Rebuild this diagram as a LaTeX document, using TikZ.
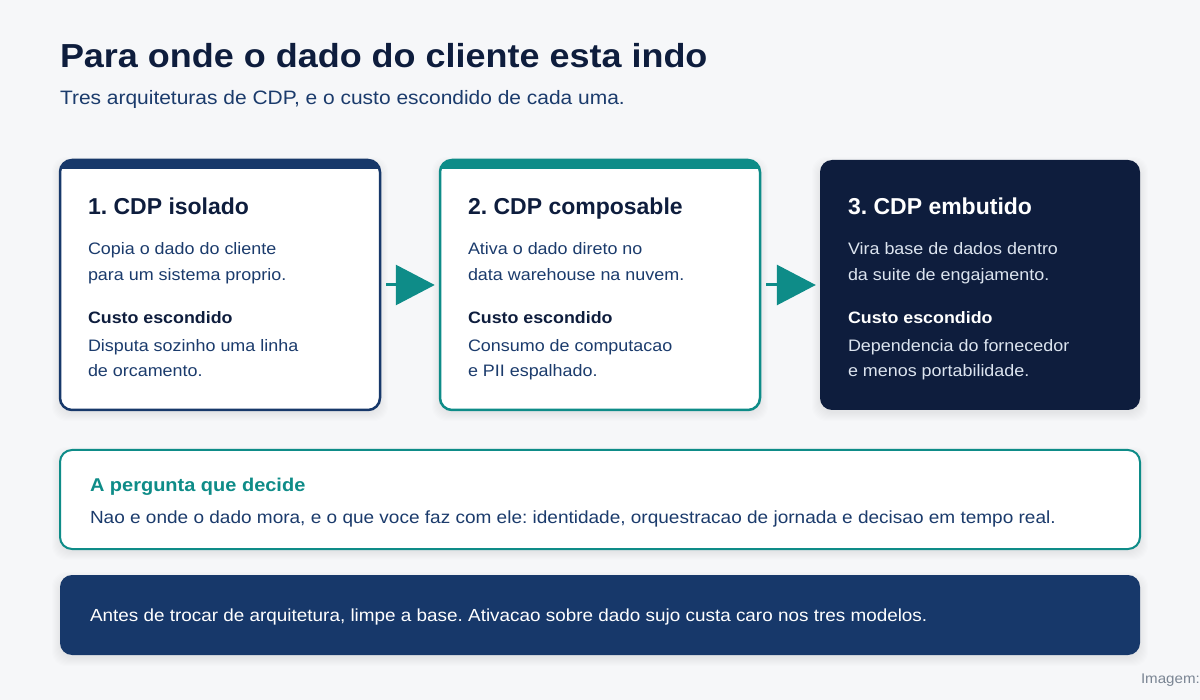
\documentclass[tikz,border=0pt]{standalone}
\usepackage{fontspec}
\setmainfont{Liberation Sans}
\newfontfamily\wfont[FakeStretch=1.08]{Liberation Sans}
\usetikzlibrary{arrows.meta}
\definecolor{bg}{HTML}{F6F7F9}
\definecolor{navy}{HTML}{17386A}
\definecolor{teal}{HTML}{0E8C88}
\definecolor{dark}{HTML}{0E1D3D}
\definecolor{bodyc}{HTML}{1B3B6C}
\definecolor{lightc}{HTML}{DCE4EF}
\definecolor{grayc}{HTML}{7A8593}
\newcommand\softshadow[4]{%
  \foreach \i in {1,...,9}{%
    \fill[black,opacity=0.009,rounded corners=14pt] (#1-\i+1,#2-\i+6) rectangle (#3+\i-1,#4+\i+2);
  }}
\begin{document}
\frenchspacing
\begin{tikzpicture}[x=1pt,y=-1pt,
  txt/.style={anchor=base west,inner sep=0pt,outer sep=0pt},
  cardbase/.style={rounded corners=12pt,minimum width=320pt,minimum height=250pt,inner sep=0pt},
  cardA/.style={cardbase,fill=white,draw=navy,line width=2.5pt},
  cardB/.style={cardbase,fill=white,draw=teal,line width=2.5pt},
  cardC/.style={cardbase,fill=dark},
  chead/.style={txt,font=\fontsize{23}{27}\selectfont\bfseries},
  cbody/.style={txt,font=\wfont\fontsize{16.6}{20}\selectfont},
  cbold/.style={txt,font=\wfont\fontsize{16.5}{20}\selectfont\bfseries},
  flow/.style={draw=teal,line width=3pt,-{Triangle[length=39pt,width=40pt]},shorten <=5pt,shorten >=4pt},
  wide/.style={rounded corners=12pt,minimum width=1080pt,inner sep=0pt}
]
\useasboundingbox (0,0) rectangle (1200,700);
\clip (0,0) rectangle (1200,700);
\fill[bg] (0,0) rectangle (1200,700);

% title
\node[txt,font=\wfont\fontsize{33.3}{38}\selectfont\bfseries,text=dark] (title) at (60,68) {Para onde o dado do cliente esta indo};
\node[txt,font=\wfont\fontsize{19.4}{23}\selectfont,text=bodyc] (subtitle) at (60,105) {Tres arquiteturas de CDP, e o custo escondido de cada uma.};

% shadows
\softshadow{60}{160}{380}{410}
\softshadow{440}{160}{760}{410}
\softshadow{820}{160}{1140}{410}
\softshadow{60}{450}{1140}{549}
\softshadow{60}{575}{1140}{655}

% cards
\node[cardA] (c1) at (220,285) {};
\node[cardB] (c2) at (600,285) {};
\node[cardC] (c3) at (980,285) {};
\begin{scope}
  \clip[rounded corners=12pt] (60,160) rectangle (380,410);
  \fill[navy] (58,158) rectangle (382,169);
\end{scope}
\begin{scope}
  \clip[rounded corners=12pt] (440,160) rectangle (760,410);
  \fill[teal] (438,158) rectangle (762,169);
\end{scope}

% card 1 text
\node[chead,text=dark] (h1) at (88,215) {1. CDP isolado};
\node[cbody,text=bodyc] (a1) at (88,255) {Copia o dado do cliente};
\node[cbody,text=bodyc] (a2) at (88,280.5) {para um sistema proprio.};
\node[cbold,text=dark] (k1) at (88,324) {Custo escondido};
\node[cbody,text=bodyc] (d1) at (88,351.5) {Disputa sozinho uma linha};
\node[cbody,text=bodyc] (d2) at (88,376.5) {de orcamento.};

% card 2 text
\node[chead,text=dark] (h2) at (468,215) {2. CDP composable};
\node[cbody,text=bodyc] (b1) at (468,255) {Ativa o dado direto no};
\node[cbody,text=bodyc] (b2) at (468,280.5) {data warehouse na nuvem.};
\node[cbold,text=dark] (k2) at (468,324) {Custo escondido};
\node[cbody,text=bodyc] (e1) at (468,351.5) {Consumo de computacao};
\node[cbody,text=bodyc] (e2) at (468,376.5) {e PII espalhado.};

% card 3 text
\node[chead,text=white] (h3) at (848,215) {3. CDP embutido};
\node[cbody,text=lightc] (f1) at (848,255) {Vira base de dados dentro};
\node[cbody,text=lightc] (f2) at (848,280.5) {da suite de engajamento.};
\node[cbold,text=white] (k3) at (848,324) {Custo escondido};
\node[cbody,text=lightc] (g1) at (848,351.5) {Dependencia do fornecedor};
\node[cbody,text=lightc] (g2) at (848,376.5) {e menos portabilidade.};

% arrows
\draw[flow] (c1.east) -- (c2.west);
\draw[flow] (c2.east) -- (c3.west);

% question box
\node[wide,fill=white,draw=teal,line width=2pt,minimum height=99pt] (qa) at (600,499.5) {};
\node[txt,font=\wfont\fontsize{18.5}{22}\selectfont\bfseries,text=teal] (qh) at (90,492) {A pergunta que decide};
\node[txt,font=\wfont\fontsize{17.6}{21}\selectfont,text=bodyc] (qb) at (90,523.5) {Nao e onde o dado mora, e o que voce faz com ele: identidade, orquestracao de jornada e decisao em tempo real.};

% footer box
\node[wide,fill=navy,minimum height=80pt] (ft) at (600,615) {};
\node[txt,font=\wfont\fontsize{17.5}{21}\selectfont,text=white] (ftt) at (90,621) {Antes de trocar de arquitetura, limpe a base. Ativacao sobre dado sujo custa caro nos tres modelos.};

\node[txt,font=\wfont\fontsize{14}{17}\selectfont,text=grayc] (credit) at (1141,683) {Imagem:};
\end{tikzpicture}
\end{document}
